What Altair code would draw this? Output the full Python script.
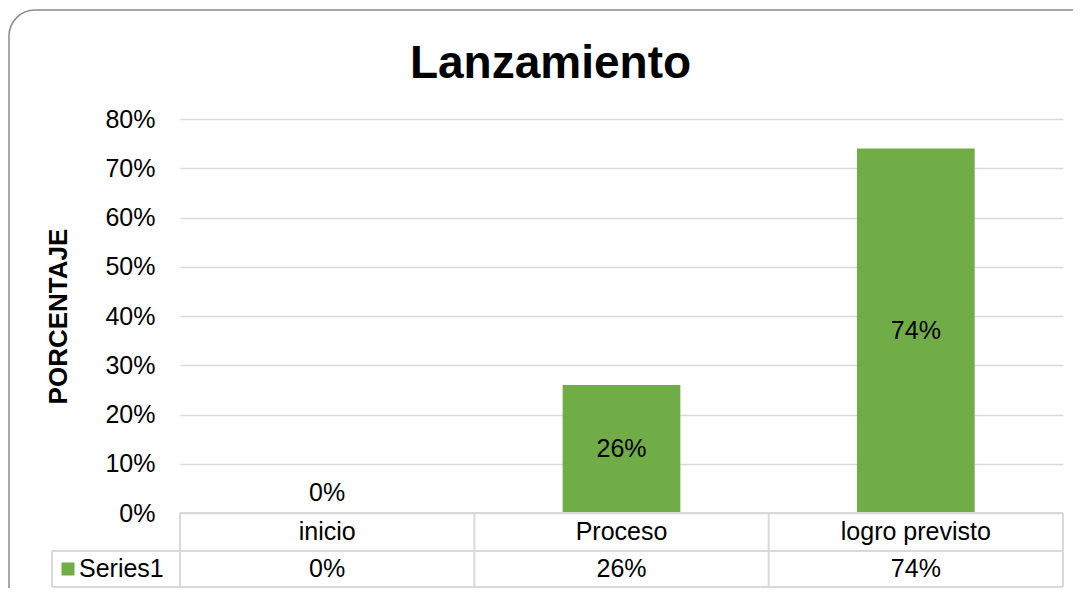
import altair as alt
import pandas as pd

# ---- data ----
categories = ["inicio", "Proceso", "logro previsto"]
values = [0.0, 0.26, 0.74]
series_name = "Series1"
y_ticks = [0, 0.1, 0.2, 0.3, 0.4, 0.5, 0.6, 0.7, 0.8]
title_text = "Lanzamiento"
y_title = "PORCENTAJE"

df = pd.DataFrame({"cat": categories, "val": values, "series": series_name})
one = pd.DataFrame({"series": [series_name]})

# ---- style ----
W, H = 883, 394
ROW1, ROW2 = 38, 36
LEG_W = 128
GREEN = "#70AD47"
GRID = "#D9D9D9"
FONT = "Liberation Sans"
TXT = "#000000"
FS = 25

xscale = alt.Scale(paddingInner=0, paddingOuter=0)
yscale = alt.Scale(domain=[0, 0.8], nice=False)


def xenc(**kw):
    return alt.X("cat:N", sort=categories, scale=xscale, axis=None, **kw)


base = alt.Chart(df)

bars = base.mark_bar(color=GREEN, width=alt.RelativeBandSize(0.4)).encode(
    x=xenc(),
    y=alt.Y(
        "val:Q",
        scale=yscale,
        axis=alt.Axis(
            values=y_ticks,
            format=".0%",
            grid=True,
            gridColor=GRID,
            gridWidth=1.5,
            domain=False,
            ticks=False,
            tickSize=0,
            labelFont=FONT,
            labelFontSize=FS,
            labelColor=TXT,
            labelPadding=25,
            title=y_title,
            titleFont=FONT,
            titleFontSize=26,
            titleFontWeight="bold",
            titleColor=TXT,
            titleX=-122,
            titleY=H / 2,
            titleBaseline="middle",
        ),
    ),
)

in_labels = (
    base.transform_filter("datum.val > 0")
    .transform_calculate(mid="datum.val / 2")
    .mark_text(font=FONT, fontSize=FS, color=TXT, baseline="middle")
    .encode(x=xenc(), y=alt.Y("mid:Q", scale=yscale), text=alt.Text("val:Q", format=".0%"))
)

zero_labels = (
    base.transform_filter("datum.val <= 0")
    .mark_text(font=FONT, fontSize=FS, color=TXT, baseline="middle", dy=-20)
    .encode(x=xenc(), y=alt.Y("val:Q", scale=yscale), text=alt.Text("val:Q", format=".0%"))
)

# ---- data table ----
head_text = base.mark_text(font=FONT, fontSize=FS, color=TXT, baseline="middle").encode(
    x=xenc(), y=alt.value(H + ROW1 / 2), text="cat:N"
)
val_text = base.mark_text(font=FONT, fontSize=FS, color=TXT, baseline="middle").encode(
    x=xenc(), y=alt.value(H + ROW1 + ROW2 / 2), text=alt.Text("val:Q", format=".0%")
)

vlines = base.mark_rule(color=GRID, strokeWidth=2).encode(
    x=xenc(bandPosition=0), y=alt.value(H), y2=alt.value(H + ROW1 + ROW2)
)
vline_end = alt.Chart(one).mark_rule(color=GRID, strokeWidth=2).encode(
    x=alt.value(W), y=alt.value(H), y2=alt.value(H + ROW1 + ROW2)
)
vline_leg = alt.Chart(one).mark_rule(color=GRID, strokeWidth=2).encode(
    x=alt.value(-LEG_W), y=alt.value(H + ROW1), y2=alt.value(H + ROW1 + ROW2)
)
hline0 = alt.Chart(one).mark_rule(color=GRID, strokeWidth=2).encode(
    x=alt.value(0), x2=alt.value(W), y=alt.value(H)
)
hline1 = alt.Chart(one).mark_rule(color=GRID, strokeWidth=2).encode(
    x=alt.value(-LEG_W), x2=alt.value(W), y=alt.value(H + ROW1)
)
hline2 = alt.Chart(one).mark_rule(color=GRID, strokeWidth=2).encode(
    x=alt.value(-LEG_W), x2=alt.value(W), y=alt.value(H + ROW1 + ROW2)
)

leg_sq = alt.Chart(one).mark_square(color=GREEN, size=169, opacity=1).encode(
    x=alt.value(-112), y=alt.value(H + ROW1 + ROW2 / 2)
)
leg_txt = alt.Chart(one).mark_text(
    font=FONT, fontSize=FS, color=TXT, align="left", baseline="middle"
).encode(x=alt.value(-101), y=alt.value(H + ROW1 + ROW2 / 2), text="series:N")

border = alt.Chart(one).mark_rect(
    filled=False, stroke="#8C8C8C", strokeWidth=1.5, cornerRadius=26
).encode(x=alt.value(-171), x2=alt.value(W + 40), y=alt.value(-109), y2=alt.value(H + 110))

chart = (
    alt.layer(
        border, bars, in_labels, zero_labels,
        hline0, hline1, hline2, vlines, vline_end, vline_leg,
        head_text, val_text, leg_sq, leg_txt,
    )
    .properties(
        width=W,
        height=H,
        title=alt.TitleParams(
            title_text,
            font=FONT,
            fontSize=46,
            fontWeight="bold",
            color=TXT,
            anchor="middle",
            frame="group",
            dx=-71,
            offset=-115,
            baseline="alphabetic",
        ),
        autosize=alt.AutoSizeParams(type="none"),
        padding={"left": 172, "top": 111, "right": 10, "bottom": 75},
    )
    .configure_view(stroke=None)
)

chart.save("out.html", embed_options={"renderer": "svg", "actions": False})
